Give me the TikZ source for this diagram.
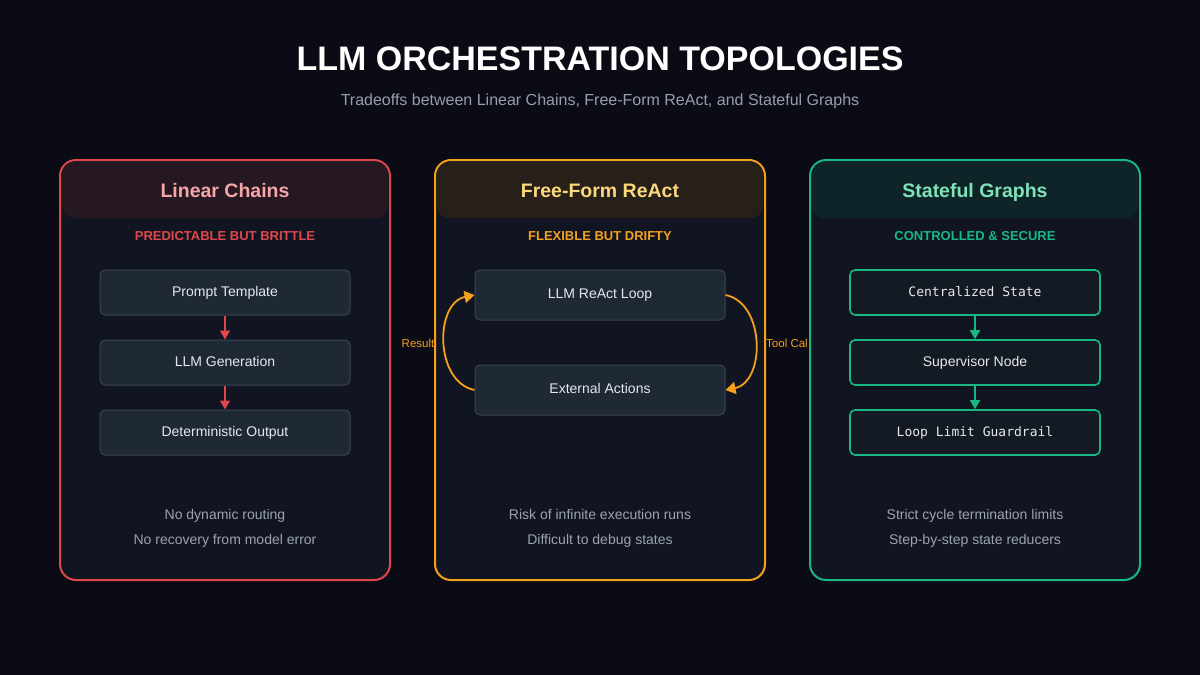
\documentclass[tikz,border=0pt]{standalone}
\usepackage{fontspec}
\setmainfont{Liberation Sans}
\setmonofont{DejaVu Sans Mono}
\usetikzlibrary{arrows.meta}
\definecolor{bg}{HTML}{0B0B16}
\definecolor{panelfill}{HTML}{111522}
\definecolor{cred}{HTML}{E0474C}
\definecolor{cpink}{HTML}{F6A5A8}
\definecolor{redband}{HTML}{261820}
\definecolor{corange}{HTML}{F5A01A}
\definecolor{cyellow}{HTML}{FCD77C}
\definecolor{orangeband}{HTML}{262019}
\definecolor{cgreen}{HTML}{17B982}
\definecolor{clgreen}{HTML}{7EE3B8}
\definecolor{greenband}{HTML}{0F2428}
\definecolor{boxfill}{HTML}{1F2835}
\definecolor{boxline}{HTML}{3A4454}
\definecolor{boxtext}{HTML}{E6E8EC}
\definecolor{graytext}{HTML}{9CA3AF}
\definecolor{subtext}{HTML}{969DB2}
\definecolor{gboxfill}{HTML}{131A24}
\tikzset{
  panel/.style={draw=#1, line width=2pt, fill=panelfill, rounded corners=16pt},
  band/.style={fill=#1, rounded corners=12pt},
  ptitle/.style={text=#1, font=\fontsize{19.5}{23}\selectfont\bfseries, text height=14pt, text depth=4pt},
  ptag/.style={text=#1, font=\fontsize{13}{15}\selectfont\bfseries, text height=9.5pt, text depth=0pt},
  stepbox/.style={draw=boxline, line width=1pt, fill=boxfill, rounded corners=5pt,
    minimum width=250pt, minimum height=45pt, text=boxtext, font=\fontsize{14}{16}\selectfont,
    text height=10pt, text depth=3pt},
  gbox/.style={draw=cgreen, line width=1.6pt, fill=gboxfill, rounded corners=5pt,
    minimum width=250pt, minimum height=45pt, text=boxtext, font=\fontsize{14}{16}\selectfont,
    text height=10pt, text depth=3pt},
  note/.style={text=graytext, font=\fontsize{14}{16}\selectfont, text height=10pt, text depth=3pt},
  flow/.style={draw=#1, line width=1.6pt, -{Triangle[width=10pt,length=9pt]}},
  bigflow/.style={draw=#1, line width=1.8pt, -{Triangle[width=12pt,length=10pt]}},
  looplabel/.style={text=corange, font=\fontsize{11.5}{13}\selectfont, text height=8.5pt, text depth=0pt},
}
\begin{document}
\begin{tikzpicture}[x=1pt,y=-1pt]
\useasboundingbox (0,0) rectangle (1200,675);
\fill[bg] (0,0) rectangle (1200,675);

\node (title) at (600,59) {\color{white}\fontsize{34}{40}\selectfont\bfseries LLM ORCHESTRATION TOPOLOGIES};
\node (subtitle) at (600,101) {\color{subtext}\fontsize{16}{19}\selectfont Tradeoffs between Linear Chains, Free-Form ReAct, and Stateful Graphs};

% ---------- Panel 1 ----------
\draw[panel=cred] (60,160) rectangle (390,580);
\fill[band=redband] (62,162) rectangle (388,218);
\node[ptitle=cpink] (t1) at (225,192) {Linear Chains};
\node[ptag=cred] (g1) at (225,236) {PREDICTABLE BUT BRITTLE};
\node[stepbox] (a1) at (225,292.5) {Prompt Template};
\node[stepbox] (a2) at (225,362.5) {LLM Generation};
\node[stepbox] (a3) at (225,432.5) {Deterministic Output};
\draw[flow=cred] (a1.south) -- (a2.north);
\draw[flow=cred] (a2.south) -- (a3.north);
\node[note] (n11) at (225,515.5) {No dynamic routing};
\node[note] (n12) at (225,540.5) {No recovery from model error};

% ---------- Panel 2 ----------
\draw[panel=corange] (435,160) rectangle (765,580);
\fill[band=orangeband] (437,162) rectangle (763,218);
\node[ptitle=cyellow] (t2) at (600,192) {Free-Form ReAct};
\node[ptag=corange] (g2) at (600,236) {FLEXIBLE BUT DRIFTY};
\node[stepbox, minimum height=50pt] (b1) at (600,295) {LLM ReAct Loop};
\node[stepbox, minimum height=50pt] (b2) at (600,390) {External Actions};
\draw[bigflow=corange] (b1.east) .. controls +(40,8) and +(40,-8) .. (b2.east);
\draw[bigflow=corange] (b2.west) .. controls +(-40,-8) and +(-40,8) .. (b1.west);
\node[looplabel] (lr) at (418,343) {Result};
\node[looplabel] (lt) at (787,343) {Tool Cal};
\node[note] (n21) at (600,515.5) {Risk of infinite execution runs};
\node[note] (n22) at (600,540.5) {Difficult to debug states};

% ---------- Panel 3 ----------
\draw[panel=cgreen] (810,160) rectangle (1140,580);
\fill[band=greenband] (812,162) rectangle (1138,218);
\node[ptitle=clgreen] (t3) at (975,192) {Stateful Graphs};
\node[ptag=cgreen] (g3) at (975,236) {CONTROLLED \& SECURE};
\node[gbox, font=\ttfamily\fontsize{13}{15}\selectfont] (c1) at (975,292.5) {Centralized State};
\node[gbox] (c2) at (975,362.5) {Supervisor Node};
\node[gbox, font=\ttfamily\fontsize{13}{15}\selectfont] (c3) at (975,432.5) {Loop Limit Guardrail};
\draw[flow=cgreen] (c1.south) -- (c2.north);
\draw[flow=cgreen] (c2.south) -- (c3.north);
\node[note] (n31) at (975,515.5) {Strict cycle termination limits};
\node[note] (n32) at (975,540.5) {Step-by-step state reducers};
\end{tikzpicture}
\end{document}
